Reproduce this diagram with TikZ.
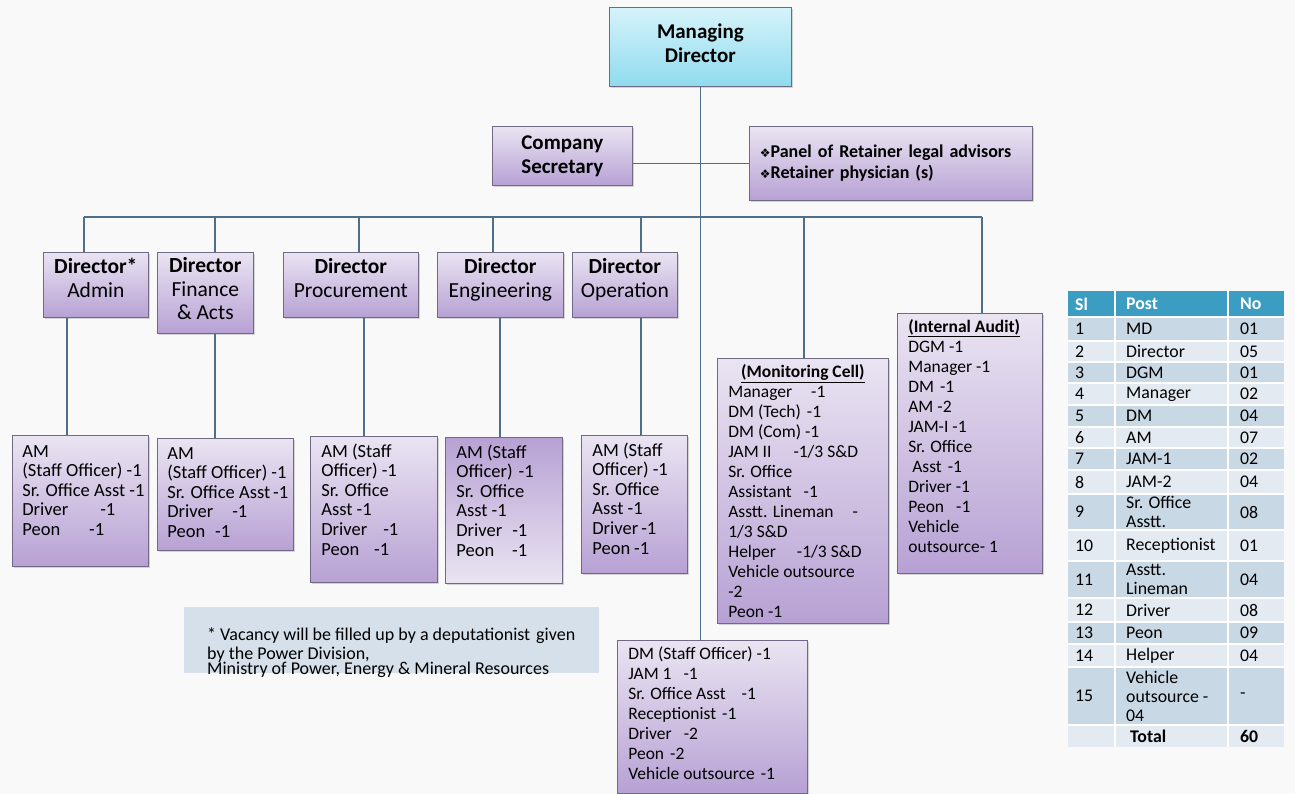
\documentclass[tikz,border=0pt]{standalone}
\usepackage{fontspec}
\setmainfont{Carlito}
\newfontfamily\symfont{DejaVu Sans}
\usetikzlibrary{positioning,shadows}

\definecolor{linkcol}{HTML}{4F6E88}
\definecolor{edge}{HTML}{6E6A86}
\definecolor{lavtop}{HTML}{EAE4F2}
\definecolor{lavbot}{HTML}{B7A1D4}
\definecolor{cyantop}{HTML}{D6F3FA}
\definecolor{cyanbot}{HTML}{8FDBEE}
\definecolor{notefill}{HTML}{D6E0EA}
\definecolor{hdrblue}{HTML}{3C9DC2}
\definecolor{rowdark}{HTML}{C9D8E5}
\definecolor{rowlight}{HTML}{E3EAF1}
\definecolor{paper}{HTML}{F9F9F9}

\newcommand{\staffsize}{\fontsize{17.5}{20}\selectfont}
\newcommand{\bigstaff}{\fontsize{18.5}{19.6}\selectfont}
\newcommand{\dia}{{\symfont\fontsize{12}{12}\selectfont ❖}}
\newcommand{\lift}[1]{\rule[-#1pt]{0pt}{#1pt}}
\newcommand{\fillbox}[4]{\parbox[t][#1pt][t]{#2pt}{\raggedright\leftskip=#3pt\relax#4}}

\begin{document}
\begin{tikzpicture}[x=1pt, y=-1pt,
    link/.style={draw=linkcol, line width=1.1pt},
    post/.style={draw=edge, line width=0.7pt, top color=lavtop, bottom color=lavbot,
      drop shadow={shadow xshift=2pt, shadow yshift=-2pt, opacity=0.3}},
    head/.style={post, anchor=north west, align=center, inner sep=0pt,
      font=\bfseries\fontsize{21}{24}\selectfont},
    director/.style={post, anchor=north west, align=center, inner sep=0pt,
      minimum height=65, font=\fontsize{21.5}{23.5}\selectfont},
    staff/.style={post, anchor=north west, inner sep=0pt},
    notebox/.style={fill=notefill, anchor=north west, inner sep=0pt},
    cell/.style={anchor=west, inner sep=0pt, align=left, font=\fontsize{17.8}{19}\selectfont}]

  \path[use as bounding box, fill=paper] (0,0) rectangle (1295,794);

  % top of the chart
  \node[head, top color=cyantop, bottom color=cyanbot, minimum width=182, minimum height=79]
    (md) at (609,7) {Managing\\Director\lift{8}};
  \node[head, minimum width=140, minimum height=59] (cs) at (492,126) {Company\\Secretary};
  \node[head, minimum width=283, minimum height=74, align=left, text width=262,
    font=\bfseries\fontsize{18}{20.5}\selectfont]
    (legal) at (749,126) {\dia Panel of Retainer legal advisors\\\dia Retainer physician (s)};

  % directors
  \node[director, minimum width=105] (admin) at (43,252) {\textbf{Director*}\\Admin\lift{14}};
  \node[director, minimum width=96, minimum height=81] (fin) at (157,252) {\textbf{Director}\\Finance\\\& Acts\lift{8}};
  \node[director, minimum width=135] (proc) at (283,252) {\textbf{Director}\\Procurement\lift{14}};
  \node[director, minimum width=126] (engg) at (437,252) {\textbf{Director}\\Engineering\lift{14}};
  \node[director, minimum width=105] (oper) at (572,252) {\textbf{Director}\\Operation\lift{14}};

  % staff under each office
  \node[staff] (adminst) at (12,435) {\fillbox{131}{136}{10}{\bigstaff\vspace*{8pt}\strut
    AM\\(Staff Officer) -1\\Sr. Office Asst -1\\Driver\hspace{32pt}-1\\Peon\hspace{29pt}-1}};
  \node[staff] (finst) at (157,438) {\fillbox{112}{136}{10}{\bigstaff\vspace*{7pt}\strut
    AM\\(Staff Officer)\hspace{4pt}-1\\Sr. Office Asst\hspace{3pt}-1\\Driver\hspace{19pt}-1\\Peon\hspace{10pt}-1}};
  \node[staff] (procst) at (310,436) {\fillbox{146}{127}{11}{\bigstaff\vspace*{7pt}\strut
    AM (Staff\\Officer) -1\\Sr. Office\\Asst -1\\Driver\hspace{16pt}-1\\Peon\hspace{15pt}-1}};
  \node[staff, top color=lavbot, bottom color=lavtop] (enggst) at (445,437) {\fillbox{146}{117}{11}{\bigstaff\vspace*{7pt}\strut
    AM (Staff\\Officer)\hspace{6pt}-1\\Sr.\hspace{6pt}Office\\Asst -1\\Driver\hspace{10pt}-1\\Peon\hspace{18pt}-1}};
  \node[staff] (operst) at (581,435) {\fillbox{138}{106}{11}{\bigstaff\vspace*{7pt}\strut
    AM (Staff\\Officer) -1\\Sr.\hspace{5pt}Office\\Asst -1\\Driver\hspace{3pt}-1\\Peon\hspace{4pt}-1}};
  \node[staff] (monit) at (717,358) {\fillbox{265}{171}{11}{\staffsize\vspace*{5pt}\strut
    {\centering\bfseries\underline{(Monitoring Cell)}\par}
    Manager\hspace{19pt}-1\\DM (Tech)\hspace{6pt}-1\\DM (Com) -1\\JAM II\hspace{22pt}-1/3 S\&D\\Sr. Office\\
    Assistant\hspace{12pt}-1\\Asstt. Lineman\hspace{19pt}-\\1/3 S\&D\\Helper\hspace{21pt}-1/3 S\&D\\
    Vehicle outsource\\-2\\Peon -1}};
  \node[staff] (audit) at (897,313) {\fillbox{260}{145}{11}{\staffsize\vspace*{5pt}\strut
    \textbf{\underline{(Internal Audit)}}\\DGM -1\\Manager -1\\DM\hspace{6pt}-1\\AM -2\\JAM-I -1\\Sr. Office\\
    \hspace*{4pt}Asst\hspace{6pt}-1\\Driver -1\\Peon\hspace{12pt}-1\\Vehicle\\outsource- 1}};
  \node[staff] (dmst) at (617,640) {\fillbox{153}{190}{11}{\staffsize\vspace*{5pt}\strut
    DM (Staff Officer) -1\\JAM 1\hspace{12pt}-1\\Sr. Office Asst\hspace{16pt}-1\\Receptionist\hspace{6pt}-1\\
    Driver\hspace{12pt}-2\\Peon\hspace{6pt}-2\\Vehicle outsource\hspace{6pt}-1}};

  \node[notebox] (note) at (184,607) {\fillbox{66}{415}{23}{\fontsize{18}{15.5}\selectfont\vspace*{21pt}\strut
    * Vacancy will be filled up by a deputationist\hspace{6pt}given\\by the Power Division,\\
    Ministry of Power, Energy \& Mineral Resources}};

  % connectors
  \draw[link] (md) -- (md |- dmst.north);
  \draw[link] (legal.west) -- (legal.west -| cs.east);
  \coordinate (busL) at (84,217);
  \coordinate (busR) at (982,217);
  \draw[link] (busL) -- (busR);
  \foreach \d/\x in {admin/84, fin/215, proc/359, engg/493, oper/641, monit/804, audit/982}
    {\coordinate (top-\d) at (\x,217);
     \draw[link] (top-\d) -- (top-\d |- \d.north);}
  \foreach \d/\s/\x in {admin/adminst/67, fin/finst/215, proc/procst/364, engg/enggst/500, oper/operst/641}
    {\coordinate (col-\d) at (\x,0);
     \draw[link] (col-\d |- \d.south) -- (col-\d |- \s.north);}

  % table of posts
  \fill[hdrblue] (1068,291) rectangle (1284,317);
  \node[cell, text=white, font=\bfseries\fontsize{17.8}{19}\selectfont] (hsl) at (1075,304) {Sl};
  \node[cell, text=white, font=\bfseries\fontsize{17.8}{19}\selectfont] (hpost) at (1126,304) {Post};
  \node[cell, text=white, font=\bfseries\fontsize{17.8}{19}\selectfont] (hno) at (1240,304) {No};
  \foreach \sl/\post/\no/\ya/\yb [count=\i] in {
      1/MD/01/317/341, 2/Director/05/341/362, 3/DGM/01/362/383, 4/Manager/02/383/405,
      5/DM/04/405/427, 6/AM/07/427/448, 7/JAM-1/02/448/470, 8/JAM-2/04/470/494,
      9/{Sr. Office\\Asstt.}/08/494/530, 10/Receptionist/01/530/561,
      11/{Asstt.\\Lineman}/04/561/598, 12/Driver/08/598/622, 13/Peon/09/622/644,
      14/Helper/04/644/667, 15/{Vehicle\\outsource -\\04}/-/667/725}
    {\ifodd\i \def\rc{rowdark}\else \def\rc{rowlight}\fi
     \fill[fill=\rc] (1068,\ya) rectangle (1284,\yb);
     \node[cell] (sl\i) at (1075,{(\ya+\yb)/2}) {\sl};
     \node[cell] (post\i) at (1126,{(\ya+\yb)/2}) {\post};
     \node[cell] (no\i) at (1240,{(\ya+\yb)/2}) {\no};
     \draw[white, line width=1.2pt] (1068,\ya) -- (1284,\ya);}
  \fill[rowlight] (1068,725) rectangle (1284,747);
  \draw[white, line width=1.2pt] (1068,725) -- (1284,725);
  \node[cell, font=\bfseries\fontsize{17.8}{19}\selectfont] (total) at (1130,736) {Total};
  \node[cell, font=\bfseries\fontsize{17.8}{19}\selectfont] (sum) at (1240,736) {60};
  \draw[white, line width=1.5pt] (1115,291) -- (1115,747);
  \draw[white, line width=1.5pt] (1228,291) -- (1228,747);
\end{tikzpicture}
\end{document}
